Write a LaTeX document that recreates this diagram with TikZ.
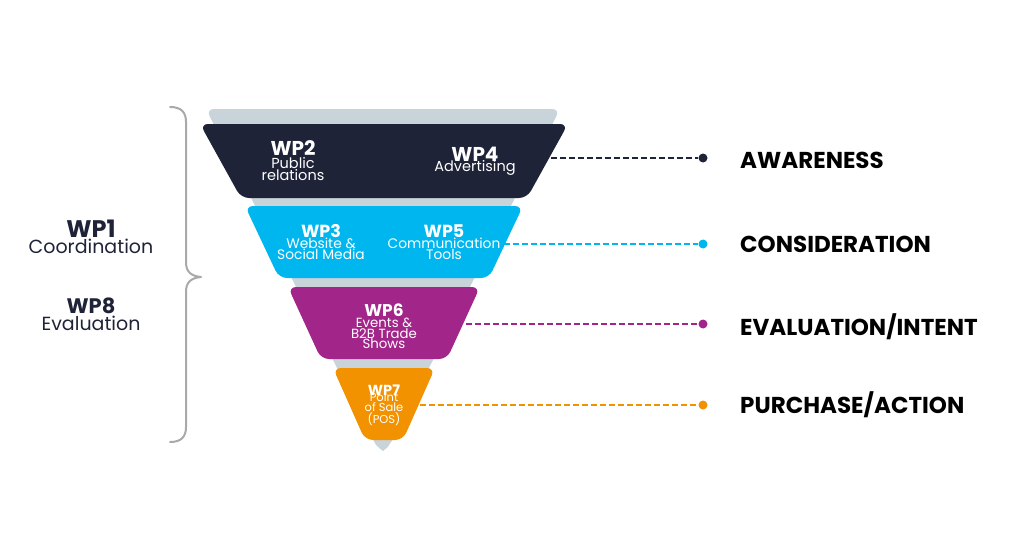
\documentclass[tikz,border=0pt]{standalone}
\usepackage{fontspec}
\setmainfont{Poppins}
\definecolor{navy}{HTML}{1F2338}
\definecolor{sky}{HTML}{00B6EF}
\definecolor{plum}{HTML}{A2268A}
\definecolor{amber}{HTML}{F39200}
\definecolor{funnelgrey}{HTML}{C9D3DA}
\definecolor{bracegrey}{HTML}{A9A9A9}
\tikzset{
  band/.style={rounded corners=8pt},
  wptitle/.style={text=white, font=\fontsize{20}{20}\selectfont\bfseries, inner sep=0pt},
  wpsub/.style={text=white, font=\fontsize{14.5}{12}\selectfont, align=center, inner sep=0pt},
  conn/.style={line width=1.6pt, dash pattern=on 6pt off 3pt},
  enddot/.style={circle, inner sep=0pt, minimum size=9pt},
  stage/.style={anchor=west, font=\fontsize{23}{23}\selectfont\bfseries, text=black, inner sep=0pt},
  lefttitle/.style={text=navy, font=\fontsize{24}{24}\selectfont\bfseries, inner sep=0pt},
  leftsub/.style={text=navy, font=\fontsize{19}{19}\selectfont, inner sep=0pt},
}
\begin{document}
\begin{tikzpicture}[x=1pt,y=-1pt]
\useasboundingbox (0,0) rectangle (1024,535);
% grey funnel
\fill[funnelgrey, rounded corners=8pt] (206,109) -- (560,109) -- (390,445) [sharp corners]-- (383,451) -- (376,445) [rounded corners=8pt] -- cycle;
\fill[funnelgrey] (376,443) .. controls (380,452) and (386,452) .. (390,443) -- cycle;
% bands
\fill[navy, band] (200,124) -- (568,124) -- (527,198) -- (241,198) -- cycle;
\fill[sky, band] (245,206) -- (523,206) -- (489,278) -- (279,278) -- cycle;
\fill[plum, band] (288,287) -- (480,287) -- (447,359) -- (321,359) -- cycle;
\fill[amber, band] (333,368) -- (435,368) -- (403,440) -- (365,440) -- cycle;
% band texts
\node[wptitle] (wp2) at (293,148) {WP2};
\node[wpsub] (wp2s) at (293,169) {Public\\relations};
\node[wptitle] (wp4) at (475,154) {WP4};
\node[wpsub] (wp4s) at (475,168) {Advertising};
\node[wptitle, font=\fontsize{17.5}{17.5}\selectfont\bfseries] (wp3) at (321,231) {WP3};
\node[wpsub, font=\fontsize{13.8}{11}\selectfont] (wp3s) at (321,248.5) {Website \&\\Social Media};
\node[wptitle, font=\fontsize{17.5}{17.5}\selectfont\bfseries] (wp5) at (444,231) {WP5};
\node[wpsub, font=\fontsize{13.8}{11}\selectfont] (wp5s) at (444,248.5) {Communication\\Tools};
\node[wptitle, font=\fontsize{17}{17}\selectfont\bfseries] (wp6) at (384,310) {WP6};
\node[wpsub, font=\fontsize{13.3}{10}\selectfont] (wp6s) at (384,333) {Events \&\\B2B Trade\\Shows};
\node[wptitle, font=\fontsize{14.5}{14.5}\selectfont\bfseries] (wp7) at (384,390) {WP7};
\node[wpsub, font=\fontsize{11.5}{8}\selectfont] (wp7s) at (384,409) {Point\\of Sale\\(POS)};
% left texts
\node[lefttitle] (wp1) at (91,229) {WP1};
\node[leftsub] (wp1s) at (91,246) {Coordination};
\node[lefttitle, font=\fontsize{21}{21}\selectfont\bfseries] (wp8) at (91,306) {WP8};
\node[leftsub] (wp8s) at (91,323) {Evaluation};
% brace
\coordinate (btop) at (170,107);
\coordinate (btip) at (201,277);
\coordinate (bbot) at (170,442);
\draw[bracegrey, line width=2pt, line cap=round, line join=round]
  (btop) .. controls (181,107) and (186,112) .. (186,122) -- (186,262)
  .. controls (186,271) and (190,276) .. (btip)
  .. controls (190,278) and (186,283) .. (186,292) -- (186,427)
  .. controls (186,437) and (181,442) .. (bbot);
% connectors
\coordinate (e1) at (551,158);
\coordinate (e2) at (504,244);
\coordinate (e3) at (466,324);
\coordinate (e4) at (420,405);
\node[enddot, fill=navy] (d1) at (703,158) {};
\node[enddot, fill=sky] (d2) at (703,244) {};
\node[enddot, fill=plum] (d3) at (703,324) {};
\node[enddot, fill=amber] (d4) at (703,405) {};
\draw[conn, navy] (e1) -- (d1);
\draw[conn, sky] (e2) -- (d2);
\draw[conn, plum] (e3) -- (d3);
\draw[conn, amber] (e4) -- (d4);
% stage labels
\node[stage] (s1) at (740,160) {AWARENESS};
\node[stage] (s2) at (740,244) {CONSIDERATION};
\node[stage] (s3) at (740,327) {EVALUATION/INTENT};
\node[stage] (s4) at (740,405) {PURCHASE/ACTION};
\end{tikzpicture}
\end{document}
